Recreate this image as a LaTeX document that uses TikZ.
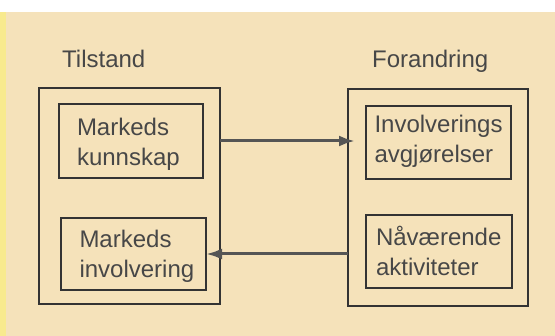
\documentclass[tikz,border=0pt]{standalone}
\usepackage{fontspec}
\setmainfont{Liberation Sans}
\usetikzlibrary{arrows.meta,calc}
\definecolor{paper}{HTML}{F5E2BA}
\definecolor{edgeband}{HTML}{F8EA8E}
\definecolor{ink}{HTML}{333333}
\definecolor{wire}{HTML}{555555}
\begin{document}
\begin{tikzpicture}[x=1pt,y=-1pt,
  txt/.style={font=\fontsize{24}{30}\selectfont, text=ink!90},
  title/.style={txt, inner sep=0pt, anchor=base west},
  outerbox/.style={draw=ink, line width=2.4pt, inner sep=0pt, outer sep=0pt},
  innerbox/.style={draw=ink, line width=2.6pt, inner sep=0pt, outer sep=0pt,
    txt, align=left, text depth=30pt, text height=#1},
  conn/.style={draw=wire, line width=3pt, -{Latex[length=16pt,width=11pt]}}]
  \useasboundingbox (0,0) rectangle (555,336);
  % page background
  \fill[white] (0,0) rectangle (555,12);
  \fill[paper] (0,12) rectangle (555,336);
  \fill[edgeband] (0,12) rectangle (6,336);

  % two columns
  \node[outerbox, minimum width=181pt, minimum height=216pt] (L) at (129.5,196) {};
  \node[outerbox, minimum width=180pt, minimum height=217pt] (R) at (438,197.5) {};
  \node[title] (tl) at (62,68) {Tilstand};
  \node[title] (fl) at (372,68) {Forandring};

  % boxes inside the columns
  \node[innerbox=20pt, minimum width=144pt, minimum height=74pt, text width=108pt] (K) at (131,141) {Markeds\\kunnskap};
  \node[innerbox=18pt, minimum width=145pt, minimum height=72pt, text width=108pt] (M) at (133.5,254) {Markeds\\involvering};
  \node[innerbox=10pt, minimum width=145pt, minimum height=73pt, text width=128pt] (I) at (438.5,142.5) {Involverings\\avgjørelser};
  \node[innerbox=19pt, minimum width=146pt, minimum height=73pt, text width=126pt] (N) at (439,251.5) {Nåværende\\aktiviteter};

  % connectors between the columns
  \draw[conn, shorten >=-7pt] (L.east |- K.east) -- (R.west |- K.east);
  \draw[conn] (R.west |- M.east) -- (M.east);
\end{tikzpicture}
\end{document}
